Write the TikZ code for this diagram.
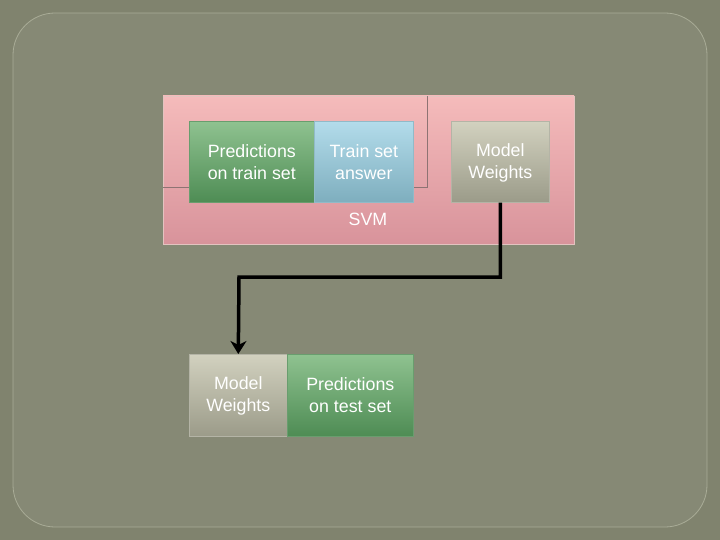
\documentclass[tikz,border=0pt]{standalone}
\usepackage{fontspec}
\setmainfont{Liberation Sans}
\usetikzlibrary{arrows.meta}
\definecolor{bgout}{HTML}{80836E}
\definecolor{bgin}{HTML}{868975}
\definecolor{bgline}{HTML}{A9AC97}
\definecolor{pinktop}{HTML}{F5BBBB}
\definecolor{pinkbot}{HTML}{D8939B}
\definecolor{pinkline}{HTML}{E3C3C0}
\definecolor{innerline}{HTML}{8E7373}
\definecolor{greentop}{HTML}{8FC290}
\definecolor{greenbot}{HTML}{4E8C54}
\definecolor{bluetop}{HTML}{B3DCEB}
\definecolor{bluebot}{HTML}{7EAEBE}
\definecolor{graytop}{HTML}{D2D1BF}
\definecolor{graybot}{HTML}{9B9B89}
\tikzset{
  boxtxt/.style={text=white, font=\fontsize{17.8}{22}\selectfont, align=center, inner sep=0pt},
  greenbox/.style={top color=greentop, bottom color=greenbot, draw=greenbot!85!white, line width=0.6pt},
  bluebox/.style={top color=bluetop, bottom color=bluebot, draw=bluebot!85!white, line width=0.6pt},
  graybox/.style={top color=graytop, bottom color=graybot, draw=graybot!75!white, line width=0.6pt},
  flowarrow/.style={line width=3.5pt, -{Stealth[length=13pt,width=16pt,inset=4pt]}}
}
\begin{document}
\begin{tikzpicture}[x=1pt,y=-1pt]
\useasboundingbox (0,0) rectangle (720,540);
\fill[bgout] (0,0) rectangle (720,540);
\draw[bgline, fill=bgin, line width=0.8pt, rounded corners=42pt] (13,13) rectangle (707,527);
% SVM container
\shade[top color=pinktop, bottom color=pinkbot] (163,96) rectangle (574,244);
\draw[pinkline, line width=0.8pt] (163,96) rectangle (574,244);
\draw[innerline, line width=0.7pt] (163,187) -- (427,187) -- (427,96);
% boxes
\node[greenbox, minimum width=125pt, minimum height=81pt, anchor=north west, inner sep=0pt] (ptrain) at (189,121) {};
\node[boxtxt] at (ptrain.center) {Predictions\\on train set};
\node[bluebox, minimum width=99pt, minimum height=81pt, anchor=north west, inner sep=0pt] (tans) at (314,121) {};
\node[boxtxt] at (tans.center) {Train set\\answer};
\node[graybox, minimum width=98pt, minimum height=81pt, anchor=north west, inner sep=0pt] (mw1) at (451,121) {};
\node[boxtxt] at ([yshift=-1pt]mw1.center) {Model\\Weights};
\node[boxtxt] (svm) at (368,219) {SVM};
% bottom boxes
\node[graybox, minimum width=98pt, minimum height=82pt, anchor=north west, inner sep=0pt] (mw2) at (189,354) {};
\node[boxtxt] at ([yshift=-1pt]mw2.center) {Model\\Weights};
\node[greenbox, minimum width=126pt, minimum height=82pt, anchor=north west, inner sep=0pt] (ptest) at (287,354) {};
\node[boxtxt] at (ptest.center) {Predictions\\on test set};
% arrow
\coordinate (bend) at (239,277);
\draw[flowarrow] (mw1.south) |- (bend) -- (mw2.north);
\end{tikzpicture}
\end{document}
